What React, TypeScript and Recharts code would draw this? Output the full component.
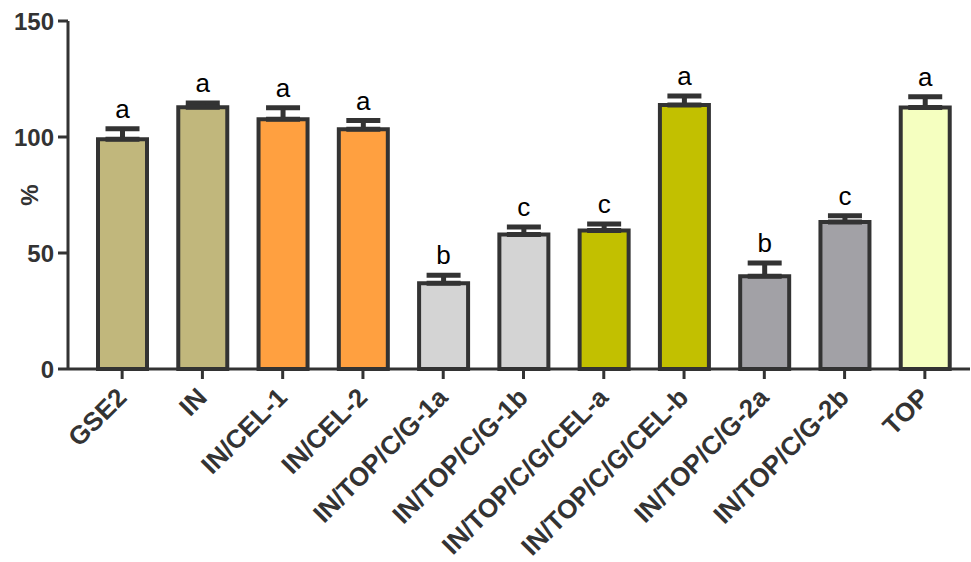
import React from 'react';
import { ComposedChart, Bar, Cell, ErrorBar, LabelList, XAxis, YAxis } from 'recharts';

const groups = [
  'GSE2', 'IN', 'IN/CEL-1', 'IN/CEL-2', 'IN/TOP/C/G-1a', 'IN/TOP/C/G-1b',
  'IN/TOP/C/G/CEL-a', 'IN/TOP/C/G/CEL-b', 'IN/TOP/C/G-2a', 'IN/TOP/C/G-2b', 'TOP',
];
const means = [99, 112.8, 107.6, 103.3, 37, 58, 59.7, 113.8, 40, 63.4, 112.7];
const sem = [4.6, 1.9, 5, 3.8, 3.4, 3.2, 2.8, 3.9, 5.7, 2.7, 4.7];
const letters = ['a', 'a', 'a', 'a', 'b', 'c', 'c', 'a', 'b', 'c', 'a'];
const fills = [
  '#C1B77C', '#C1B77C', '#FFA040', '#FFA040', '#D4D4D4', '#D4D4D4',
  '#C2C000', '#C2C000', '#A2A1A6', '#A2A1A6', '#F5FFC0',
];
const yTicks = [0, 50, 100, 150];

const data = groups.map((name, i) => ({
  name,
  value: means[i],
  err: [0, sem[i]],
}));

const INK = '#333333';
const FONT = '"Liberation Sans", Arial, Helvetica, sans-serif';

const XTick = (props: any) => {
  const { x, y, payload } = props;
  const ax = x + 6;
  const ay = y + 18;
  return (
    <text
      x={ax}
      y={ay}
      textAnchor="end"
      transform={`rotate(-45, ${ax}, ${ay})`}
      fontFamily={FONT}
      fontWeight="bold"
      fontSize={26}
      fill={INK}
    >
      {payload.value}
    </text>
  );
};

// letter sits just above the error bar cap
const Letter = (props: any) => {
  const { x, y, width, height, value, index } = props;
  const pxPerUnit = height / value;
  const top = y - sem[index] * pxPerUnit;
  return (
    <text
      x={x + width / 2}
      y={top - 11}
      textAnchor="middle"
      fontFamily={FONT}
      fontSize={26}
      fill="#000"
    >
      {letters[index]}
    </text>
  );
};

export default function App() {
  return (
    <div style={{ position: 'absolute', left: 0, top: 0, background: '#fff' }}>
      <ComposedChart
        width={971}
        height={562}
        data={data}
        margin={{ top: 21, right: 1, bottom: 0, left: 0 }}
      >
        <XAxis
          dataKey="name"
          height={193}
          interval={0}
          padding={{ left: 14, right: 5 }}
          axisLine={{ stroke: INK, strokeWidth: 3 }}
          tickLine={{ stroke: INK, strokeWidth: 3 }}
          tickSize={10}
          tick={<XTick />}
        />
        <YAxis
          width={68}
          domain={[0, 150]}
          ticks={yTicks}
          interval={0}
          axisLine={{ stroke: INK, strokeWidth: 3 }}
          tickLine={{ stroke: INK, strokeWidth: 3 }}
          tickSize={10}
          tickMargin={4}
          tick={{ fontFamily: FONT, fontWeight: 'bold', fontSize: 24, fill: INK }}
          label={{
            content: () => (
              <text
                x={38}
                y={195}
                textAnchor="middle"
                transform="rotate(-90, 38, 195)"
                fontFamily={FONT}
                fontWeight="bold"
                fontSize={24}
                fill={INK}
              >
                %
              </text>
            ),
          }}
        />
        <Bar dataKey="value" barSize={49} stroke={INK} strokeWidth={4} isAnimationActive={false}>
          {data.map((d, i) => (
            <Cell key={d.name} fill={fills[i]} />
          ))}
          <ErrorBar dataKey="err" width={17} stroke={INK} strokeWidth={5} direction="y" isAnimationActive={false} />
          <LabelList dataKey="value" content={<Letter />} />
        </Bar>
      </ComposedChart>
    </div>
  );
}
